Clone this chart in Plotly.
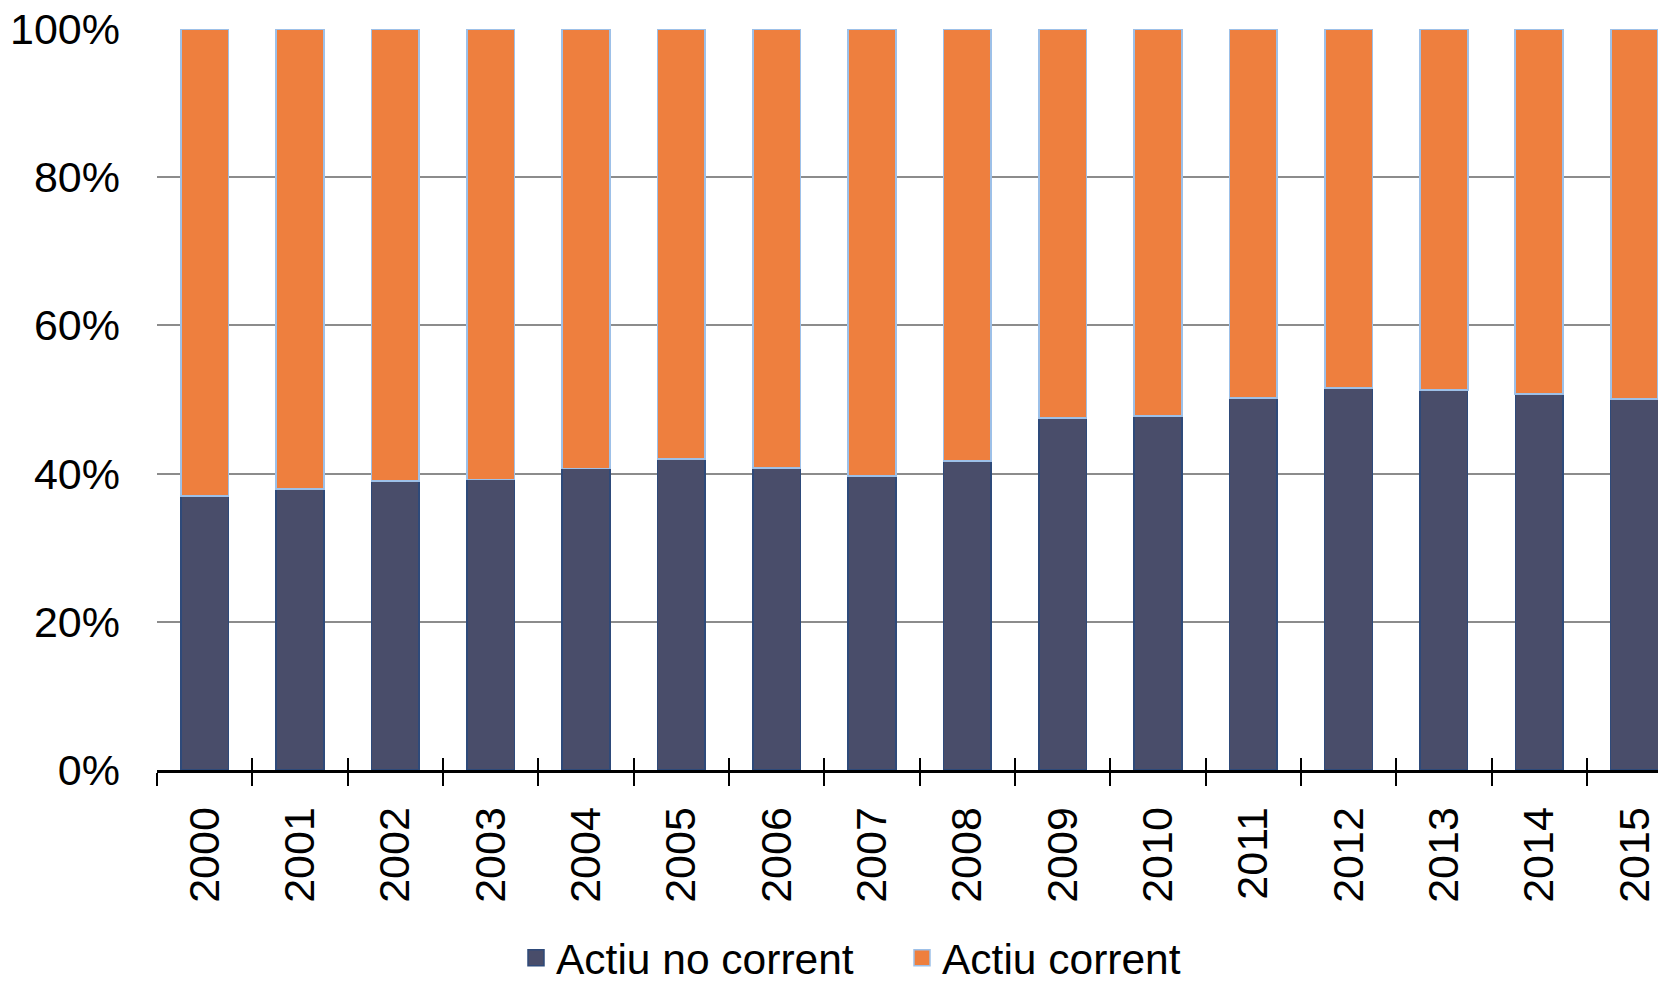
import plotly.graph_objects as go

years = [str(y) for y in range(2000, 2016)]
no_corrent = [37.0, 37.9, 39.0, 39.2, 40.7, 42.0, 40.8, 39.7, 41.7, 47.5, 47.8, 50.2, 51.5, 51.3, 50.7, 50.1]
corrent = [round(100 - v, 1) for v in no_corrent]
y_ticks = [0, 20, 40, 60, 80, 100]
y_labels = ["0%", "20%", "40%", "60%", "80%", "100%"]

NAVY = "#494D6A"
NAVY_EDGE = "#2E4A7A"
ORANGE = "#EE7F3E"
ORANGE_EDGE = "#9DC0E8"
FONT = "Liberation Sans, Arial, sans-serif"
FS = 43
FS_LEG = 42.5

fig = go.Figure()
fig.add_trace(go.Bar(x=years, y=no_corrent, name="Actiu no corrent",
                     marker=dict(color=NAVY, line=dict(color=NAVY_EDGE, width=1.5)),
                     showlegend=False))
fig.add_trace(go.Bar(x=years, y=corrent, name="Actiu corrent",
                     marker=dict(color=ORANGE, line=dict(color=ORANGE_EDGE, width=1.8)),
                     showlegend=False))
# legend entries with larger square symbols
fig.add_trace(go.Scatter(x=[None], y=[None], mode="markers", name="Actiu no corrent",
                         marker=dict(symbol="square", size=21, color=NAVY,
                                     line=dict(color=NAVY_EDGE, width=1.5))))
fig.add_trace(go.Scatter(x=[None], y=[None], mode="markers", name="Actiu corrent",
                         marker=dict(symbol="square", size=21, color=ORANGE,
                                     line=dict(color=ORANGE_EDGE, width=1.5))))
# invisible copy on an overlaid category axis, used only to draw the upward tick marks
fig.add_trace(go.Bar(x=years, y=no_corrent, xaxis="x2", yaxis="y", opacity=0,
                     showlegend=False, hoverinfo="skip"))

x_end = -0.5 + 15.83

# page body has an 8px margin, so the figure is sized/offset to compensate
W, H = 1658, 1000
fig.update_layout(
    width=W, height=H,
    margin=dict(l=149, r=0, t=21, b=H - 762, autoexpand=False),
    paper_bgcolor="white", plot_bgcolor="white",
    barmode="stack", bargap=0.5,
    font=dict(family=FONT, size=FS, color="black"),
    xaxis=dict(type="category", range=[-0.5, x_end], categoryorder="array", categoryarray=years,
               tickangle=-90, ticks="outside", ticklen=13, tickwidth=2, tickcolor="black",
               tickson="boundaries", showline=True, linecolor="black", linewidth=3,
               showgrid=False, zeroline=False, ticklabelstandoff=17, automargin=False,
               tickfont=dict(family=FONT, size=FS, color="black")),
    xaxis2=dict(type="category", overlaying="x", anchor="y", side="bottom",
                range=[-0.5, x_end], categoryorder="array", categoryarray=years,
                ticks="inside", ticklen=12, tickwidth=2, tickcolor="black",
                tickson="boundaries", showticklabels=False, showgrid=False,
                zeroline=False, showline=False, automargin=False),
    yaxis=dict(range=[0, 100], tickmode="array", tickvals=y_ticks, ticktext=y_labels,
               showgrid=True, gridcolor="#8C8C8C", gridwidth=1.5, zeroline=False,
               showline=False, ticks="", ticklabelstandoff=36, ticklabeloverflow="allow",
               automargin=False, tickfont=dict(family=FONT, size=FS, color="black")),
    legend=dict(orientation="h", xref="container", yref="container",
                x=508 / W, y=1 - 950 / H, xanchor="left", yanchor="middle",
                traceorder="normal", font=dict(family=FONT, size=FS_LEG),
                entrywidth=341, itemsizing="trace", bgcolor="rgba(0,0,0,0)"),
)

fig.write_html("out.html")
